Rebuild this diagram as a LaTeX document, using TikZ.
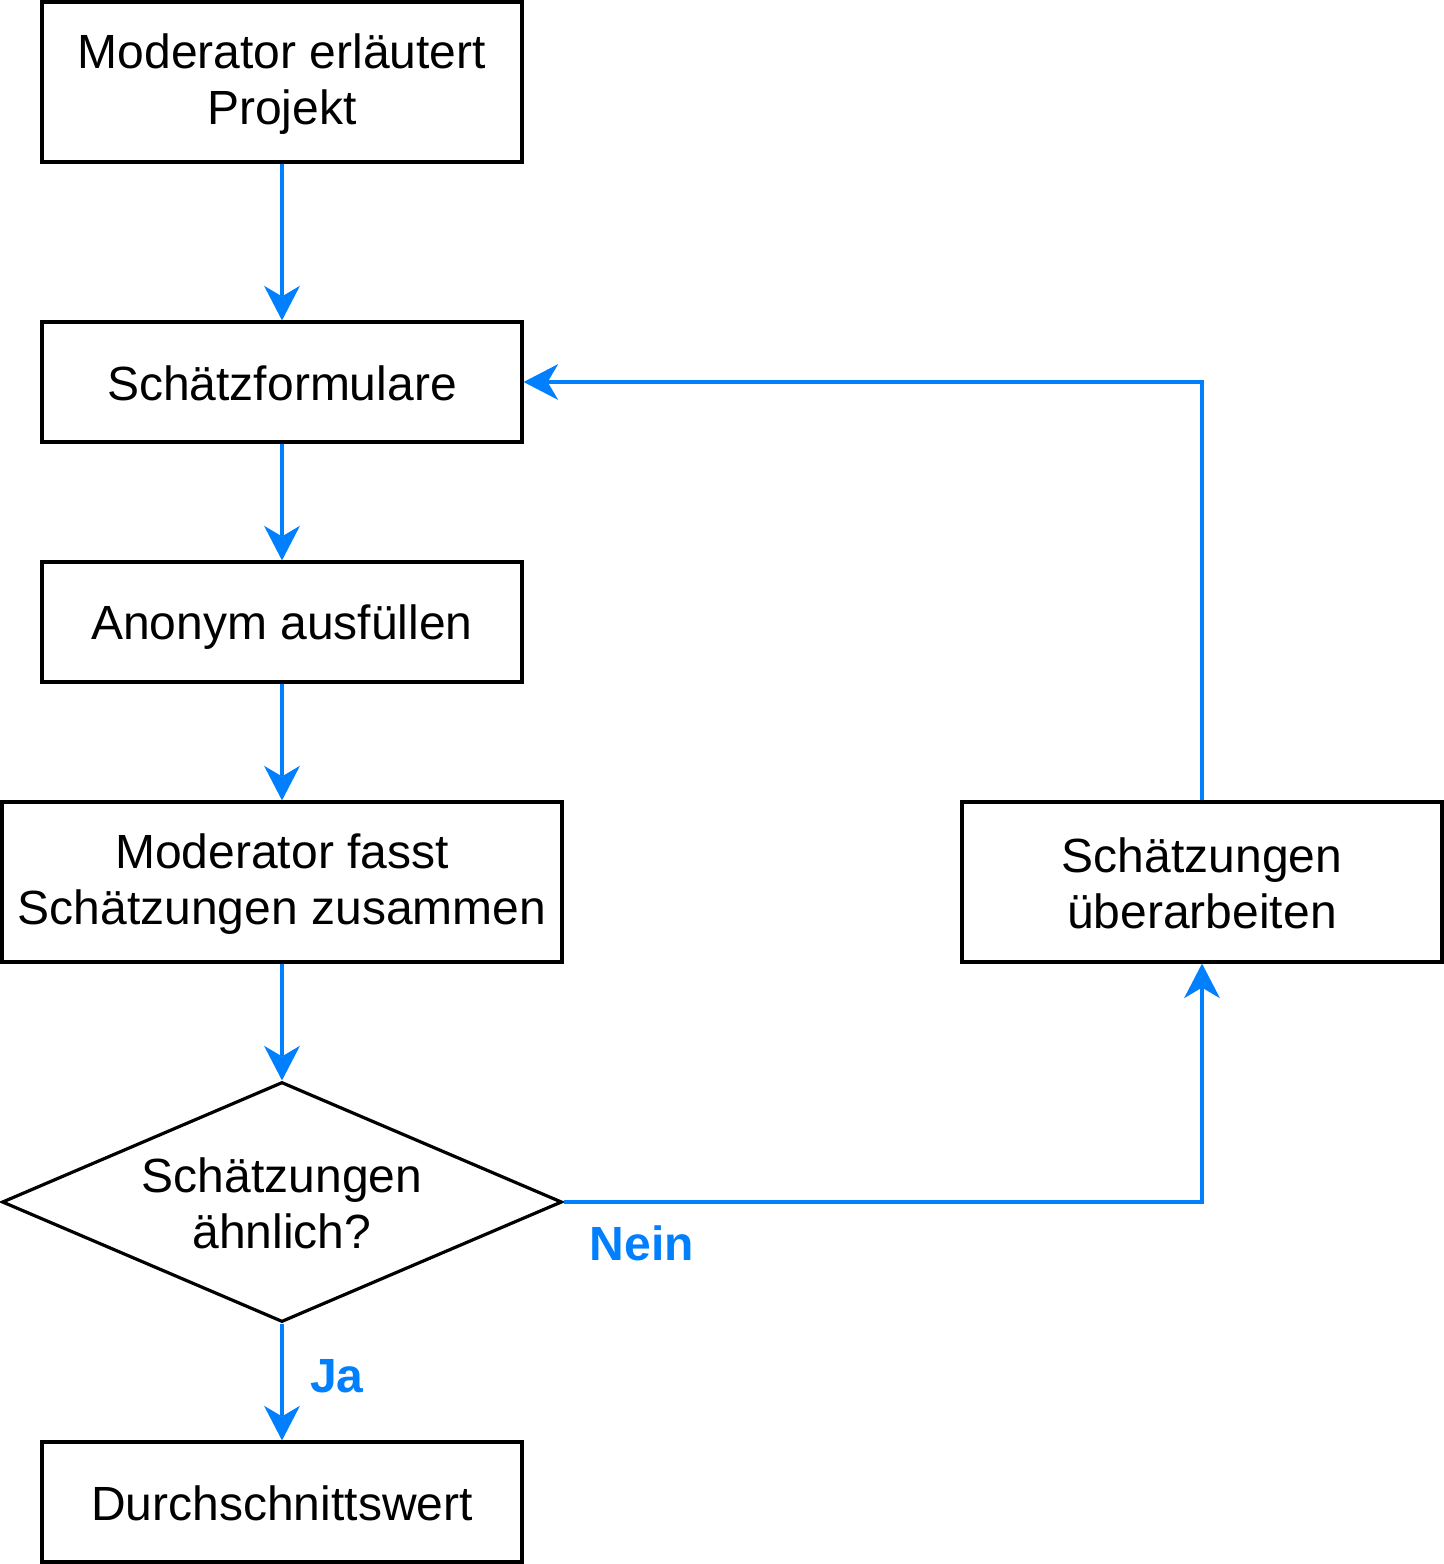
\documentclass[tikz,border=0pt]{standalone}
\usepackage{fontspec}
\setmainfont{Liberation Sans}
\usetikzlibrary{arrows.meta,shapes.geometric}
\definecolor{flowblue}{RGB}{0,127,255}
\begin{document}
\begin{tikzpicture}[x=0.75pt,y=-0.75pt,
  box/.style={draw=black,line width=2.4pt,inner sep=0pt},
  dia/.style={draw=black,line width=2.4pt,diamond,inner sep=0pt,
    minimum width=420pt,minimum height=180pt},
  txt/.style={align=center,font=\fontsize{36}{42}\selectfont},
  conn/.style={draw=flowblue,line width=2.4pt,
    -{Stealth[length=26pt,width=27pt,inset=8pt,line width=0pt]}},
  lbl/.style={text=flowblue,font=\fontsize{36}{42}\selectfont\bfseries}]
\useasboundingbox (0,0) rectangle (1444,1564);
\node[box,minimum width=360pt,minimum height=120pt] (b1) at (282,82) {};
\node[box,minimum width=360pt,minimum height=90pt] (b2) at (282,382) {};
\node[box,minimum width=360pt,minimum height=90pt] (b3) at (282,622) {};
\node[box,minimum width=420pt,minimum height=120pt] (b4) at (282,882) {};
\node[dia] (dec) at (282,1202) {};
\node[box,minimum width=360pt,minimum height=90pt] (b6) at (282,1502) {};
\node[box,minimum width=360pt,minimum height=120pt] (b7) at (1202,882) {};
\node[txt] (b1t) at (282,84.5) {Moderator erläutert\\Projekt};
\node[txt] (b2t) at (282,383) {Schätzformulare};
\node[txt] (b3t) at (282,627) {Anonym ausfüllen};
\node[txt] (b4t) at (282,884) {Moderator fasst\\Schätzungen zusammen};
\node[txt] (dect) at (282,1203) {Schätzungen\\ähnlich?};
\node[txt] (b6t) at (282,1503) {Durchschnittswert};
\node[txt] (b7t) at (1202,883) {Schätzungen\\überarbeiten};
\draw[conn] (b1.south) -- (b2.north);
\draw[conn] (b2.south) -- (b3.north);
\draw[conn] (b3.south) -- (b4.north);
\draw[conn] (b4.south) -- (dec.north);
\draw[conn] (dec.south) -- (b6.north);
\draw[conn] (dec.east) -| (b7.south);
\draw[conn] (b7.north) |- (b2.east);
\node[lbl] (nein) at (642,1243) {Nein};
\node[lbl] (ja) at (337,1376) {Ja};
\end{tikzpicture}
\end{document}
